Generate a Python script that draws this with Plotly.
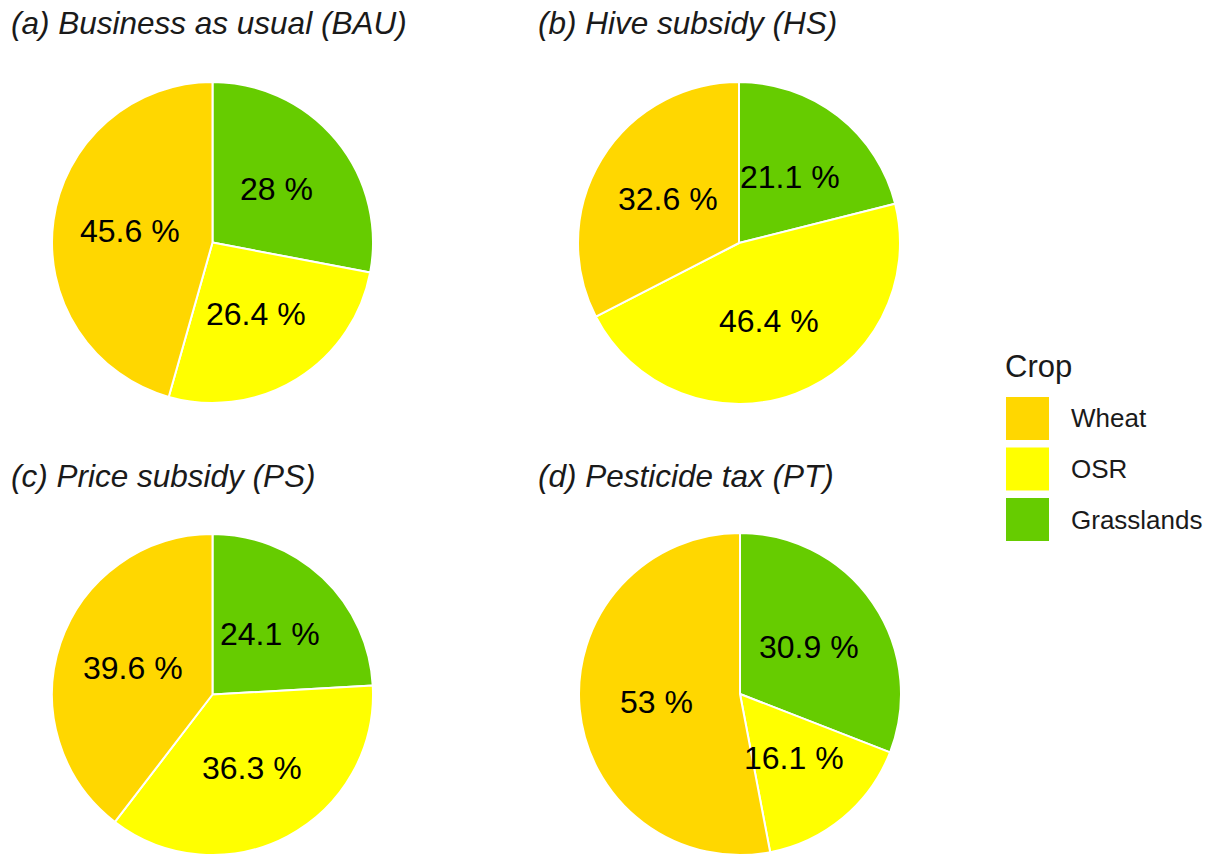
import math
import plotly.graph_objects as go

W, H = 1214, 856

crops = ["Grasslands", "OSR", "Wheat"]
legend_order = ["Wheat", "OSR", "Grasslands"]
colors = {"Wheat": "#FFD700", "OSR": "#FFFF00", "Grasslands": "#66CC00"}

titles = ["(a) Business as usual (BAU)", "(b) Hive subsidy (HS)",
          "(c) Price subsidy (PS)", "(d) Pesticide tax (PT)"]
bau = [28.0, 26.4, 45.6]
hs = [21.1, 46.4, 32.6]
ps = [24.1, 36.3, 39.6]
pt = [30.9, 16.1, 53.0]
scenarios = [bau, hs, ps, pt]

# pie boxes in pixels (left, top, size)
boxes = [(52, 82, 321), (578, 82, 322), (52, 534, 321), (579, 533, 322)]
title_pos = [(9, 23), (536, 23), (9, 476), (536, 476)]

fig = go.Figure()
annotations = []
shapes = []
FONT = "Liberation Sans"

for vals, (l, t, s), title, (tx, ty) in zip(scenarios, boxes, titles, title_pos):
    fig.add_trace(go.Pie(
        labels=crops, values=vals, sort=False, direction="clockwise", rotation=0,
        marker=dict(colors=[colors[c] for c in crops], line=dict(color="white", width=2)),
        textinfo="none", hoverinfo="label+value", showlegend=False,
        domain=dict(x=[l / W, (l + s) / W], y=[1 - (t + s) / H, 1 - t / H]),
    ))
    cx, cy, R = l + s / 2, t + s / 2, s / 2
    total = sum(vals)
    cum = 0.0
    for v in vals:
        mid = (cum + v / 2) / total * 2 * math.pi
        cum += v
        r = 0.52 * R
        px = cx + r * math.sin(mid)
        py = cy - r * math.cos(mid)
        annotations.append(dict(
            x=px / W, y=1 - py / H, xref="paper", yref="paper",
            text=f"{v:g} %", showarrow=False, xanchor="center", yanchor="middle",
            font=dict(family=FONT, size=32, color="black"),
        ))
    annotations.append(dict(
        x=tx / W, y=1 - ty / H, xref="paper", yref="paper", text=f"<i>{title}</i>",
        showarrow=False, xanchor="left", yanchor="middle",
        font=dict(family=FONT, size=31.5, color="#1a1a1a"),
    ))

# legend
annotations.append(dict(
    x=1003 / W, y=1 - 366 / H, xref="paper", yref="paper", text="Crop",
    showarrow=False, xanchor="left", yanchor="middle",
    font=dict(family=FONT, size=31, color="#1a1a1a"),
))
for i, c in enumerate(legend_order):
    top = 397 + i * 50.5
    shapes.append(dict(
        type="rect", xref="paper", yref="paper",
        x0=1006 / W, x1=1049 / W, y0=1 - (top + 43) / H, y1=1 - top / H,
        fillcolor=colors[c], line=dict(width=0),
    ))
    annotations.append(dict(
        x=1069 / W, y=1 - (top + 21.5) / H, xref="paper", yref="paper", text=c,
        showarrow=False, xanchor="left", yanchor="middle",
        font=dict(family=FONT, size=26, color="#1a1a1a"),
    ))

fig.update_layout(
    width=W, height=H, autosize=False,
    margin=dict(l=0, r=0, t=0, b=0),
    paper_bgcolor="white", plot_bgcolor="white",
    annotations=annotations, shapes=shapes,
)

fig.write_html("out.html", config={"displayModeBar": False},
               post_script="document.body.style.margin='0';")
